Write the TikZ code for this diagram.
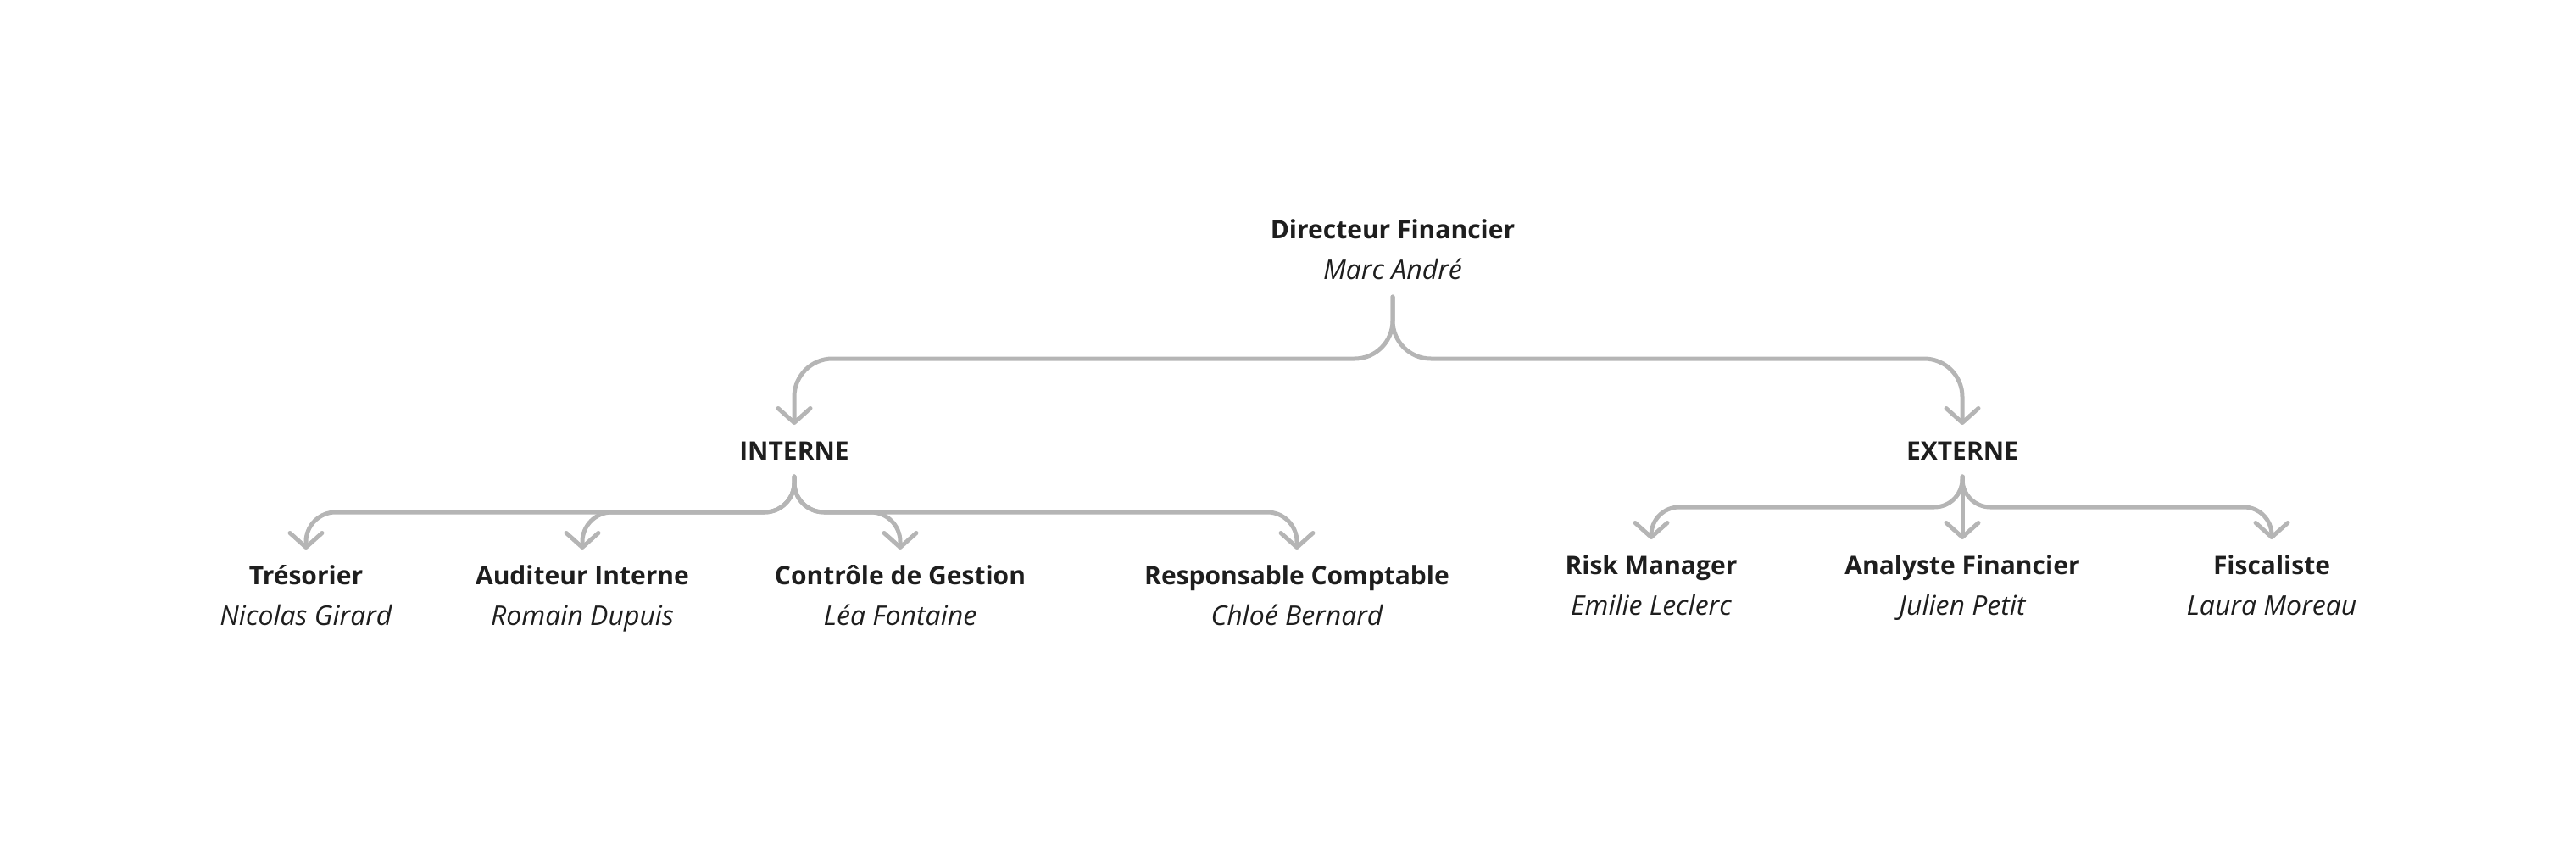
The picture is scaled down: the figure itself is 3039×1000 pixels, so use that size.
\documentclass[tikz,border=0pt]{standalone}
\usepackage{fontspec}
\setmainfont{Open Sans}
\usetikzlibrary{arrows.meta}
\definecolor{diagramgrey}{RGB}{181,181,181}
\definecolor{diagramtext}{RGB}{30,30,30}

\begin{document}
\begin{tikzpicture}[x=1pt, y=-1pt,
        every node/.style={anchor=base, inner sep=0pt, outer ysep=20pt, text height=21pt, text depth=0pt, text=diagramtext},
        role/.style={font=\fontsize{30}{36}\selectfont\bfseries},
        person/.style={font=\fontsize{32}{38}\selectfont\itshape},
        link/.style={draw=diagramgrey, line width=5pt, line cap=round, -{Straight Barb[length=17pt, width=38pt, round]}}]

        \useasboundingbox (0,0) rectangle (3039,1000);

        % Top
        \node[role] (cfoRole) at (1643,282) {Directeur Financier};
        \node[person] (cfoName) at (1643,330) {Marc André};

        % Groups
        \node[role] (interne) at (937,542) {INTERNE};
        \node[role] (externe) at (2315,542) {EXTERNE};

        % Interne children
        \node[role] (tresRole) at (361,689) {Trésorier};
        \node[person] (tresName) at (361,737) {Nicolas Girard};
        \node[role] (audRole) at (687,689) {Auditeur Interne};
        \node[person] (audName) at (687,737) {Romain Dupuis};
        \node[role] (cdgRole) at (1062,689) {Contrôle de Gestion};
        \node[person] (cdgName) at (1062,737) {Léa Fontaine};
        \node[role] (rcRole) at (1530,689) {Responsable Comptable};
        \node[person] (rcName) at (1530,737) {Chloé Bernard};

        % Externe children
        \node[role] (riskRole) at (1948,677) {Risk Manager};
        \node[person] (riskName) at (1948,725) {Emilie Leclerc};
        \node[role] (anaRole) at (2315,677) {Analyste Financier};
        \node[person] (anaName) at (2315,725) {Julien Petit};
        \node[role] (fiscRole) at (2680,677) {Fiscaliste};
        \node[person] (fiscName) at (2680,725) {Laura Moreau};

        % Bus levels
        \coordinate (cfoBus) at (0,423);
        \coordinate (intBus) at (0,604);
        \coordinate (extBus) at (0,598);

        % Connectors
        \foreach \grp in {interne, externe}
            \draw[link, rounded corners=45pt] (cfoName.south) |- (\grp.north |- cfoBus) -- (\grp.north);
        \foreach \child in {tresRole, audRole, cdgRole, rcRole}
            \draw[link, rounded corners=35pt] (interne.south) |- (\child.north |- intBus) -- (\child.north);
        \foreach \child in {riskRole, fiscRole}
            \draw[link, rounded corners=33pt] (externe.south) |- (\child.north |- extBus) -- (\child.north);
        \draw[link] (externe.south) -- (anaRole.north);

    \end{tikzpicture}
\end{document}
